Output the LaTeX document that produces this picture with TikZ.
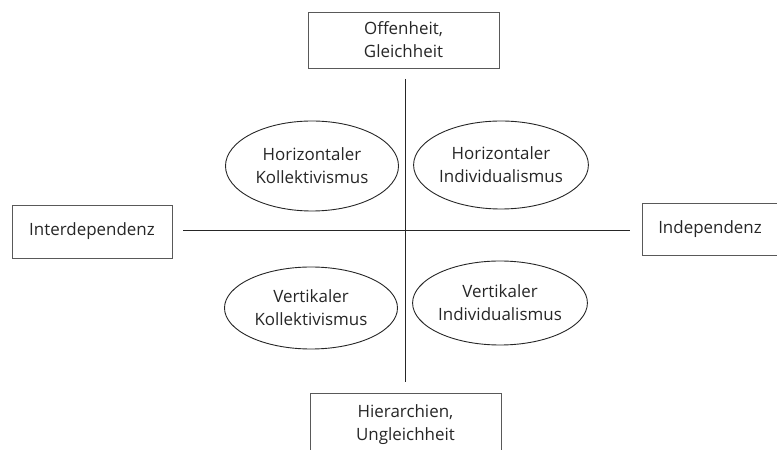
\documentclass[tikz,border=0pt]{standalone}
\usepackage{fontspec}
\setmainfont{Open Sans}
\usetikzlibrary{shapes.geometric}
\tikzset{
  pole/.style={draw=black!65, line width=0.9bp, align=center, inner sep=0pt,
    font=\fontsize{17}{23}\selectfont, text=black!85},
  culture/.style={ellipse, draw=black!85, line width=0.9bp, align=center, inner sep=0pt,
    minimum width=173bp, font=\fontsize{17}{23}\selectfont, text=black!85},
  axis/.style={line width=1bp, draw=black!85}
}
\begin{document}
\begin{tikzpicture}
\useasboundingbox (0bp,0bp) rectangle (777bp,450bp);
  % Node: Offenheit
  \node[pole, minimum width=191bp, minimum height=56bp] (offen) at (403.5bp,410bp) {Offenheit,\\Gleichheit};
  % Node: Hierarchien
  \node[pole, minimum width=191bp, minimum height=64bp] (hier) at (405.5bp,25bp) {Hierarchien,\\Ungleichheit};
  % Node: Interdependenz
  \node[pole, minimum width=160bp, minimum height=53bp] (inter) at (92bp,218.5bp) {Interdependenz};
  % Node: Independenz
  \node[pole, minimum width=136bp, minimum height=52bp] (indep) at (710bp,221bp) {Independenz};
  % Node: Horizontaler Kollektivismus
  \node[culture, minimum height=90bp] (hk) at (312bp,284bp) {Horizontaler\\Kollektivismus};
  % Node: Horizontaler Individualismus
  \node[culture, minimum height=88bp] (hi) at (501bp,285bp) {Horizontaler\\Individualismus};
  % Node: Vertikaler Kollektivismus
  \node[culture, minimum height=82bp] (vk) at (311bp,142bp) {Vertikaler\\Kollektivismus};
  % Node: Vertikaler Individualismus
  \node[culture, minimum height=84bp] (vi) at (500bp,147bp) {Vertikaler\\Individualismus};
  % Edge: vertical axis
  \coordinate (vtop) at (405bp,371bp);
  \coordinate (vbot) at (405bp,68bp);
  \draw[axis] (vtop) -- (vbot);
  % Edge: horizontal axis
  \coordinate (hleft) at (183bp,219bp);
  \coordinate (hright) at (630bp,219bp);
  \draw[axis] (hleft) -- (hright);
\end{tikzpicture}
\end{document}
